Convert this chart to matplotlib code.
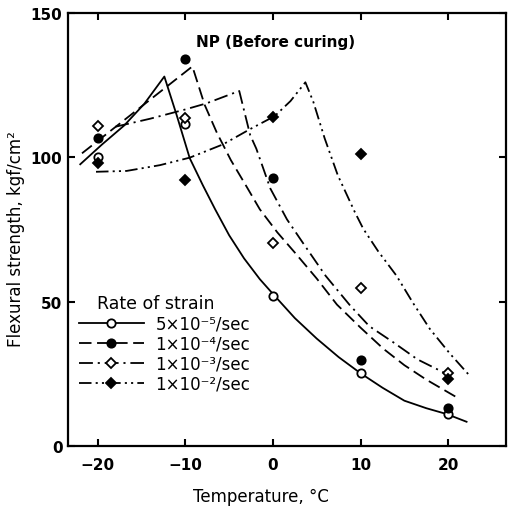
import matplotlib
matplotlib.use("Agg")
import matplotlib.pyplot as plt
from matplotlib.lines import Line2D

plt.rcParams["font.family"] = ["DejaVu Sans"]
plt.rcParams["lines.scale_dashes"] = False

# measured points (temperature in C, flexural strength in kgf/cm2)
temps = [-20, -10, 0, 10, 20]
pts_5e5 = [100, 111.5, 52, 25.2, 11]
pts_1e4 = [106.8, 134, 93, 29.9, 13.1]
pts_1e3 = [111, 113.8, 70.5, 54.8, 25.2]
pts_1e2 = [97.9, 92.1, 113.9, 101, 23.3]

# fitted curves
cx_5e5 = [-22, -19.5, -17, -14.7, -12.4, -11, -9.5, -8, -6.6, -5, -3.3, -1.5,
          0.2, 2.5, 5, 7.5, 10, 12.5, 15, 17.5, 19.8, 22.1]
cy_5e5 = [97.6, 104.5, 111, 118.5, 128, 114.7, 99.7, 90.3, 82, 73, 65, 57.8,
          52, 44.3, 37.2, 30.8, 25.2, 20.2, 15.7, 13.1, 11.1, 8.4]

cx_1e4 = [-21.8, -9.2, -7.8, -6.4, -4.8, -3, -1.5, 0.5, 2.5, 5, 7.3, 10,
          12.6, 15, 17.5, 20.9]
cy_1e4 = [101.4, 131.5, 118.2, 108.5, 99, 89.8, 82, 74, 67, 58, 49, 41,
          33.7, 28, 23, 17]

cx_1e3 = [-18, -14, -10, -7.6, -3.85, -2.6, -1.9, -0.3, 1.6, 3.5, 6, 8.8,
          11, 13.7, 16.5, 19.8]
cy_1e3 = [110.6, 113.4, 116.6, 118.7, 123, 107.7, 103, 89.2, 78.5, 70, 59,
          48.7, 41.5, 36, 30, 25]

cx_1e2 = [-20.2, -16.7, -12.9, -9.5, -5.7, -2.6, 0.2, 2, 3.7, 4.6, 5.9, 7.4,
          9.35, 10.3, 12, 14.1, 16, 17.9, 20.2, 22.5]
cy_1e2 = [95, 95.3, 97.3, 99.9, 104.5, 109.8, 114.3, 119.5, 126, 119.3,
          106.6, 93.8, 81, 75.3, 67.5, 59, 49.5, 40.6, 32, 24.2]

labels = ["5×10⁻⁵/sec", "1×10⁻⁴/sec", "1×10⁻³/sec", "1×10⁻²/sec"]

dash = (0, (9, 4))
dashdot = (0, (10, 3.5, 1.5, 3.5))
dashdotdot = (0, (9, 3, 1.5, 3, 1.5, 3))

series = [
    (cx_5e5, cy_5e5, pts_5e5, "-", "o", "white"),
    (cx_1e4, cy_1e4, pts_1e4, dash, "o", "black"),
    (cx_1e3, cy_1e3, pts_1e3, dashdot, "D", "white"),
    (cx_1e2, cy_1e2, pts_1e2, dashdotdot, "D", "black"),
]

fig = plt.figure(figsize=(5.15, 5.1), dpi=100)
ax = fig.add_axes([0.132, 0.1235, 0.8505, 0.849])

handles = []
for (cx, cy, pts, ls, mk, fc), lab in zip(series, labels):
    ax.plot(cx, cy, color="black", lw=1.3, linestyle=ls)
    ms = 6 if mk == "o" else 5.3
    ax.plot(temps, pts, linestyle="none", marker=mk, ms=ms, mfc=fc,
            mec="black", mew=1.3)
    handles.append(Line2D([], [], color="black", lw=1.3, linestyle=ls,
                          marker=mk, ms=ms, mfc=fc, mec="black", mew=1.3,
                          label=lab))

ax.set_xlim(-23.4, 26.6)
ax.set_ylim(0, 150)
ax.set_xticks([-20, -10, 0, 10, 20])
ax.set_yticks([0, 50, 100, 150])
ax.tick_params(direction="in", length=5, width=1.5, top=True, right=True,
               labelsize=11)
ax.tick_params(axis="x", pad=8)
ax.tick_params(axis="y", pad=4)
for lbl in ax.get_xticklabels() + ax.get_yticklabels():
    lbl.set_fontweight("bold")
for sp in ax.spines.values():
    sp.set_linewidth(1.6)

ax.set_xlabel("Temperature, °C", fontsize=12)
ax.set_ylabel("Flexural strength, kgf/cm²", fontsize=12)
ax.xaxis.set_label_coords(0.44, -0.095)
ax.yaxis.set_label_coords(-0.098, 0.48)

ax.text(0.3, 140, "NP (Before curing)", ha="center", va="center",
        fontsize=11, fontweight="semibold")
ax.text(-20.1, 49.7, "Rate of strain", ha="left", va="center", fontsize=12.5)

ax.legend(handles=handles, loc="upper left", bbox_to_anchor=(0.025, 0.303),
          frameon=False, fontsize=12, handlelength=3.9, handletextpad=0.7,
          labelspacing=0.12, borderpad=0, borderaxespad=0, numpoints=1)

fig.savefig("out.png", dpi=100)
